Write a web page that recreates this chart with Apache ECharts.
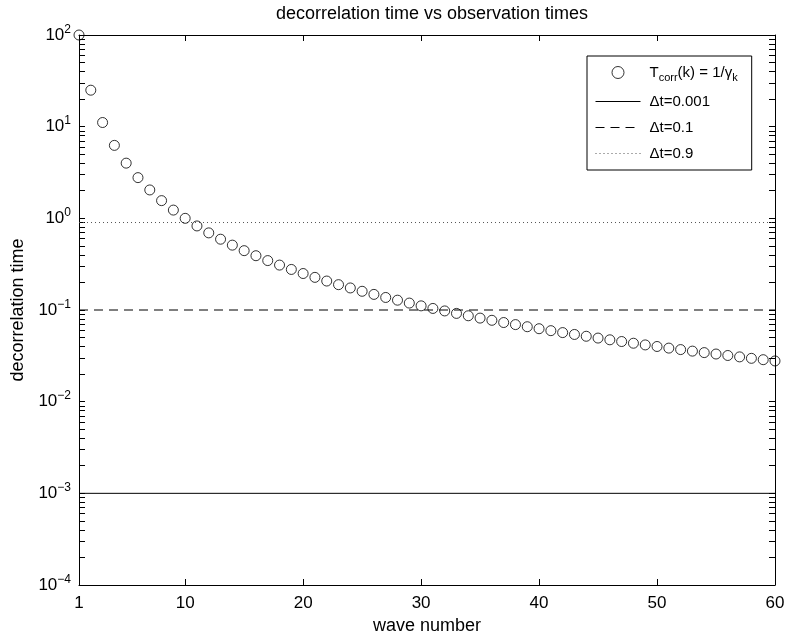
<!DOCTYPE html>
<html>
<head>
<meta charset="utf-8">
<script src="https://cdn.jsdelivr.net/npm/echarts@6/dist/echarts.min.js"></script>
<style>
  html, body { margin: 0; padding: 0; background: #fff; }
  #chart { width: 788px; height: 636px; }
</style>
</head>
<body>
<div id="chart"></div>
<script>
  // wave numbers k = 1..60
  const waveNumbers = [
    1, 2, 3, 4, 5, 6, 7, 8, 9, 10, 11, 12, 13, 14, 15, 16, 17, 18, 19, 20,
    21, 22, 23, 24, 25, 26, 27, 28, 29, 30, 31, 32, 33, 34, 35, 36, 37, 38, 39, 40,
    41, 42, 43, 44, 45, 46, 47, 48, 49, 50, 51, 52, 53, 54, 55, 56, 57, 58, 59, 60
  ]
  // decorrelation time
  const corrTimes = [
    100, 25, 11.1, 6.25, 4.0, 2.78, 2.04, 1.56, 1.23, 1.0,
    0.826, 0.694, 0.592, 0.510, 0.444, 0.391, 0.346, 0.309, 0.277, 0.25,
    0.227, 0.207, 0.189, 0.174, 0.16, 0.148, 0.137, 0.128, 0.119, 0.111,
    0.104, 0.0977, 0.0918, 0.0865, 0.0816, 0.0772, 0.0730, 0.0693, 0.0657, 0.0625,
    0.0595, 0.0567, 0.0541, 0.0517, 0.0494, 0.0473, 0.0453, 0.0434, 0.0416, 0.04,
    0.0384, 0.0370, 0.0356, 0.0343, 0.0331, 0.0319, 0.0308, 0.0297, 0.0287, 0.0278
  ]
  // observation times (horizontal lines)
  const obsTimes = [0.001, 0.1, 0.9]
  const xRange = [1, 60]
  const xTicks = [1, 10, 20, 30, 40, 50, 60]
  const yMajorTicks = [1e-4, 1e-3, 1e-2, 1e-1, 1, 10, 100]
  const yMinorSteps = [2, 3, 4, 5, 6, 7, 8, 9]

  const yAllTicks = []
  yMajorTicks.forEach(function (d, i) {
    yAllTicks.push(d)
    if (i < yMajorTicks.length - 1) {
      yMinorSteps.forEach(function (m) { yAllTicks.push(+(d * m).toPrecision(3)) })
    }
  })

  const FONT = 'Liberation Sans'
  const chart = echarts.init(document.getElementById('chart'))

  const expLabel = function (v) {
    const e = Math.round(Math.log10(v))
    return '10{sup|' + (e < 0 ? '\u2212' + (-e) : e) + '}'
  }

  const yAxisBase = function (pos, showLabel) {
    return {
      type: 'log',
      logBase: 10,
      min: 1e-4,
      max: 100,
      position: pos,
      axisLine: { show: true, onZero: false, lineStyle: { color: '#000', width: 1 } },
      axisTick: { show: true, inside: true, length: 6, customValues: yAllTicks, lineStyle: { color: '#000' } },
      axisLabel: {
        show: showLabel,
        customValues: yMajorTicks,
        formatter: expLabel,
        color: '#000',
        fontFamily: FONT,
        fontSize: 17,
        margin: 8,
        rich: {
          sup: { fontSize: 12, fontFamily: FONT, color: '#000', padding: [0, 0, 11, 0] }
        }
      },
      splitLine: { show: false },
      minorTick: { show: false }
    }
  }

  const xAxisBase = function (pos, showLabel) {
    return {
      type: 'value',
      min: xRange[0],
      max: xRange[1],
      position: pos,
      axisLine: { show: true, onZero: false, lineStyle: { color: '#000', width: 1 } },
      axisTick: { show: true, inside: true, length: 6, customValues: xTicks, lineStyle: { color: '#000' } },
      axisLabel: {
        show: showLabel,
        customValues: xTicks,
        color: '#000',
        fontFamily: FONT,
        fontSize: 17,
        margin: 10
      },
      splitLine: { show: false }
    }
  }

  const xMain = xAxisBase('bottom', true)
  xMain.name = 'wave number'
  xMain.nameLocation = 'middle'
  xMain.nameGap = 31
  xMain.nameTextStyle = { color: '#000', fontFamily: FONT, fontSize: 18 }

  const yMain = yAxisBase('left', true)
  yMain.name = 'decorrelation time'
  yMain.nameLocation = 'middle'
  yMain.nameGap = 52
  yMain.nameTextStyle = { color: '#000', fontFamily: FONT, fontSize: 18 }

  const hLine = function (v) {
    return [[xRange[0], v], [xRange[1], v]]
  }

  const hidden = { opacity: 0 }

  const option = {
    animation: false,
    backgroundColor: '#fff',
    title: {
      text: 'decorrelation time vs observation times',
      left: 427,
      textAlign: 'center',
      top: 0,
      textStyle: { color: '#000', fontFamily: FONT, fontSize: 18, fontWeight: 'normal' }
    },
    grid: { left: 79, right: 13, top: 35, bottom: 51, outerBoundsMode: 'none', containLabel: false },
    xAxis: [xMain, xAxisBase('top', false)],
    yAxis: [yMain, yAxisBase('right', false)],
    legend: {
      orient: 'vertical',
      left: 587,
      top: 56,
      width: 162,
      padding: [9, 14, 9, 8],
      itemGap: 11,
      itemWidth: 45,
      itemHeight: 12,
      borderColor: '#000',
      borderWidth: 1,
      backgroundColor: '#fff',
      lineStyle: { width: 1 },
      textStyle: {
        color: '#000', fontFamily: FONT, fontSize: 15,
        padding: [0, 0, 0, 4],
        rich: {
          n: { fontSize: 15, fontFamily: FONT, color: '#000' },
          sub: { fontSize: 11, fontFamily: FONT, color: '#000', padding: [10, 0, 0, 0] }
        }
      },
      formatter: function (name) {
        if (name === 'Tcorr') return '{n|T}{sub|corr}{n|(k) = 1/\u03b3}{sub|k}'
        return name
      },
      data: [
        { name: 'Tcorr', itemStyle: { borderWidth: 1 } },
        { name: '\u0394t=0.001', itemStyle: hidden },
        { name: '\u0394t=0.1', itemStyle: hidden },
        { name: '\u0394t=0.9', itemStyle: hidden }
      ]
    },
    series: [
      {
        name: 'Tcorr',
        type: 'scatter',
        data: waveNumbers.map(function (k, i) { return [k, corrTimes[i]] }),
        symbol: 'circle',
        symbolSize: 10,
        itemStyle: { color: 'rgba(0,0,0,0)', borderColor: '#000', borderWidth: 1 },
        z: 5
      },
      {
        name: '\u0394t=0.001',
        type: 'line',
        data: hLine(obsTimes[0]),
        symbol: 'none',
        lineStyle: { color: '#000', width: 1, type: 'solid' },
        itemStyle: { color: '#000' }
      },
      {
        name: '\u0394t=0.1',
        type: 'line',
        data: hLine(obsTimes[1]),
        symbol: 'none',
        lineStyle: { color: '#000', width: 1.2, type: [9, 6] },
        itemStyle: { color: '#000' }
      },
      {
        name: '\u0394t=0.9',
        type: 'line',
        data: hLine(obsTimes[2]),
        symbol: 'none',
        lineStyle: { color: '#555', width: 1, type: [1, 3] },
        itemStyle: { color: '#555' }
      }
    ]
  }

  chart.setOption(option)
</script>
</body>
</html>
